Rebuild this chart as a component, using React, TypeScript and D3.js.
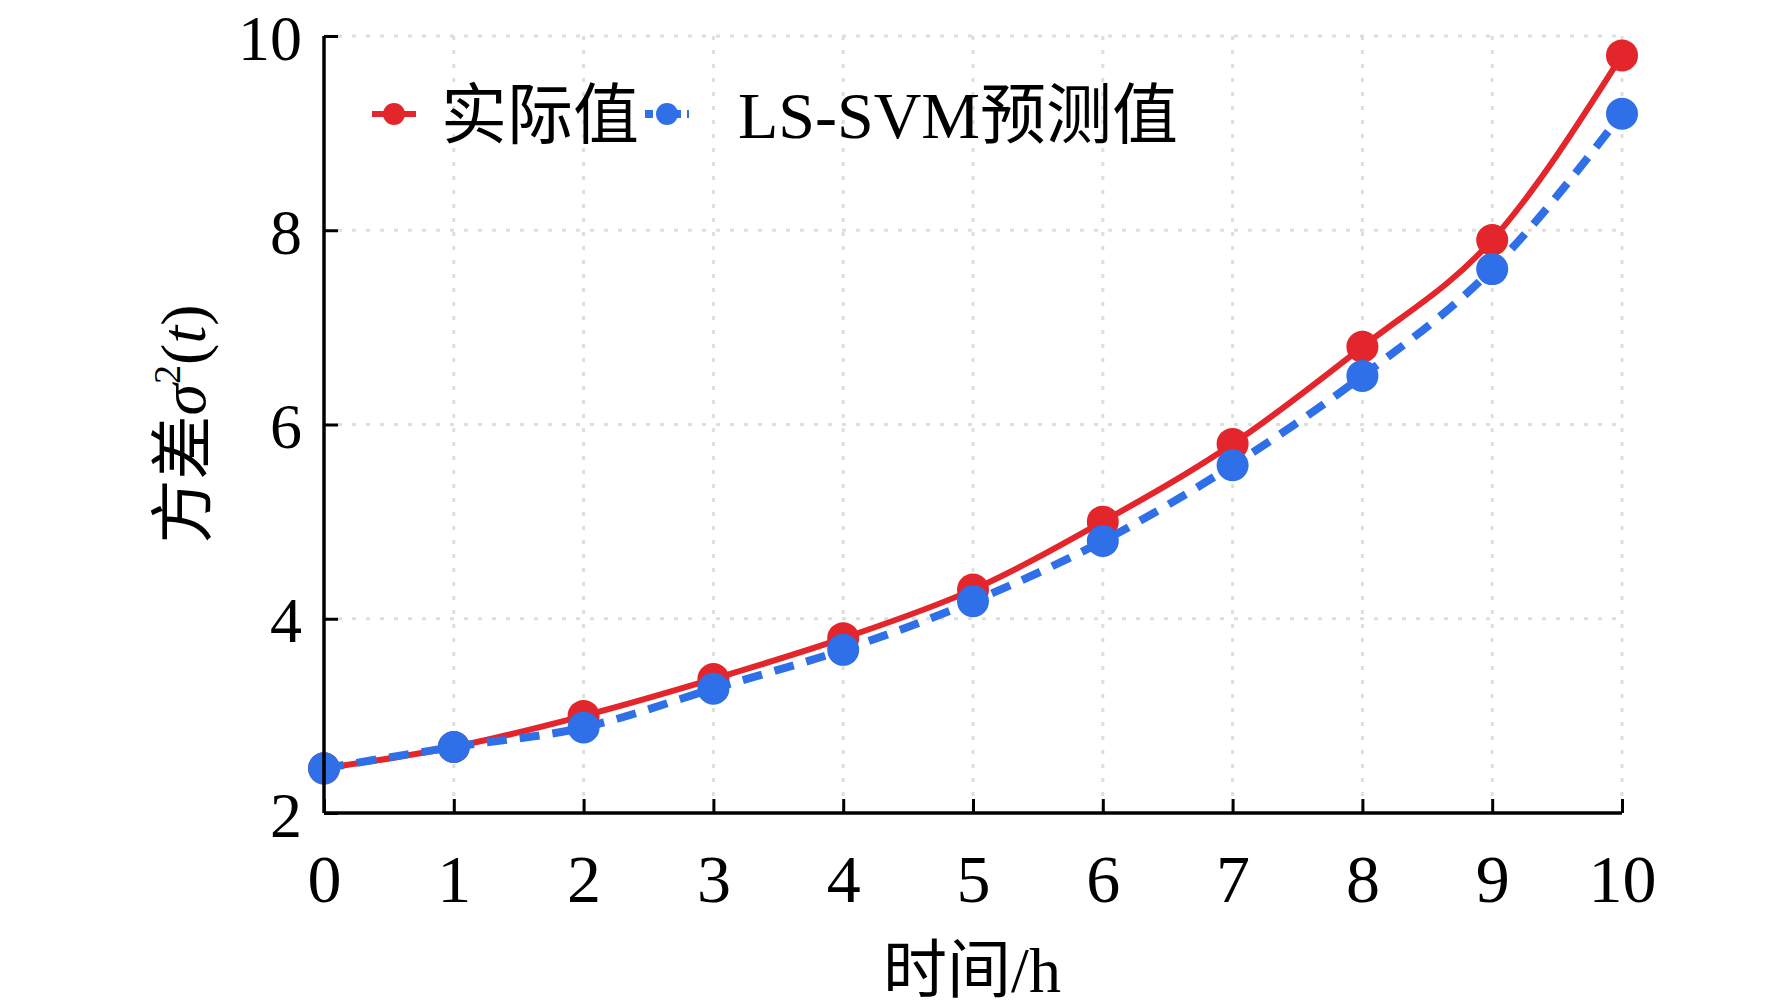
import * as d3 from 'd3'
import React, { useRef, useEffect } from 'react'

const hours = [0, 1, 2, 3, 4, 5, 6, 7, 8, 9, 10]
const actual = [2.46, 2.68, 3.0, 3.38, 3.8, 4.3, 5.0, 5.8, 6.8, 7.9, 9.8]
const predicted = [2.46, 2.68, 2.88, 3.28, 3.68, 4.18, 4.8, 5.58, 6.5, 7.6, 9.2]
const yTicks = [2, 4, 6, 8, 10]
const seriesNames = ['实际值', 'LS-SVM预测值']

const App = () => {
  const ref = useRef(null)

  useEffect(() => {
    draw()
  }, [])

  const draw = () => {
    const totalWidth = 1772
    const totalHeight = 1007
    const margin = { top: 36, right: 150, bottom: 194, left: 324 }
    const width = totalWidth - margin.left - margin.right
    const height = totalHeight - margin.top - margin.bottom

    const red = '#e3262b'
    const blue = '#2f6fe8'
    const serif = '"Liberation Serif", "Times New Roman", "Noto Sans CJK SC", serif'

    const svg = d3.select(ref.current)
    svg.selectAll('*').remove()

    const xScale = d3.scaleLinear().domain([0, 10]).range([0, width])
    const yScale = d3.scaleLinear().domain([2, 10]).range([height, 0])

    const g = svg.append('g').attr('transform', 'translate(' + margin.left + ',' + margin.top + ')')

    // dotted grid
    g.selectAll('.vGrid')
      .data(hours.filter((d) => d > 0))
      .enter()
      .append('line')
      .attr('x1', (d) => xScale(d))
      .attr('x2', (d) => xScale(d))
      .attr('y1', 0)
      .attr('y2', height)
      .attr('stroke', '#dedede')
      .attr('stroke-width', 3)
      .attr('stroke-dasharray', '4 10')

    g.selectAll('.hGrid')
      .data(yTicks.filter((d) => d > 2))
      .enter()
      .append('line')
      .attr('x1', 0)
      .attr('x2', width)
      .attr('y1', (d) => yScale(d))
      .attr('y2', (d) => yScale(d))
      .attr('stroke', '#dedede')
      .attr('stroke-width', 3)
      .attr('stroke-dasharray', '4 10')

    const line = d3
      .line<number>()
      .x((d, i) => xScale(hours[i]))
      .y((d) => yScale(d))
      .curve(d3.curveMonotoneX)

    // actual values
    g.append('path')
      .datum(actual)
      .attr('fill', 'none')
      .attr('stroke', red)
      .attr('stroke-width', 6)
      .attr('d', line)

    g.selectAll('.redDot')
      .data(actual)
      .enter()
      .append('circle')
      .attr('cx', (d, i) => xScale(hours[i]))
      .attr('cy', (d) => yScale(d))
      .attr('r', 16)
      .attr('fill', red)

    // LS-SVM prediction
    g.append('path')
      .datum(predicted)
      .attr('fill', 'none')
      .attr('stroke', blue)
      .attr('stroke-width', 8)
      .attr('stroke-dasharray', '20 13')
      .attr('d', line)

    g.selectAll('.blueDot')
      .data(predicted)
      .enter()
      .append('circle')
      .attr('cx', (d, i) => xScale(hours[i]))
      .attr('cy', (d) => yScale(d))
      .attr('r', 16)
      .attr('fill', blue)

    // axes, ticks inward
    const xAxis = d3.axisBottom(xScale).tickValues(hours).tickSize(-14).tickPadding(40).tickFormat(d3.format('d'))
    const yAxis = d3.axisLeft(yScale).tickValues(yTicks).tickSize(-14).tickPadding(22).tickFormat(d3.format('d'))

    const xg = g.append('g').attr('transform', 'translate(0,' + height + ')').call(xAxis)
    const yg = g.append('g').call(yAxis)

    ;[xg, yg].forEach((ax) => {
      ax.select('.domain').attr('stroke', '#000').attr('stroke-width', 3.5)
      ax.selectAll('.tick line').attr('stroke', '#000').attr('stroke-width', 3)
      ax.selectAll('.tick text').attr('font-family', serif).attr('fill', '#000')
    })
    xg.selectAll('.tick text').attr('font-size', 68).attr('dy', '0.72em')
    yg.selectAll('.tick text').attr('font-size', 64).attr('dy', '0.36em')
    yg.select('.domain').attr('d', 'M0,' + height + 'V0')
    xg.select('.domain').attr('d', 'M0,0H' + width)

    // axis titles
    svg
      .append('text')
      .attr('x', 972)
      .attr('y', 992)
      .attr('text-anchor', 'middle')
      .attr('font-family', serif)
      .attr('font-size', 64)
      .attr('fill', '#000')
      .text('时间/h')

    const yTitle = svg
      .append('text')
      .attr('transform', 'translate(205,424) rotate(-90)')
      .attr('text-anchor', 'middle')
      .attr('font-family', serif)
      .attr('font-size', 64)
      .attr('fill', '#000')
    yTitle.append('tspan').text('方差')
    yTitle.append('tspan').attr('font-style', 'italic').text('σ')
    yTitle.append('tspan').attr('font-size', 38).attr('dy', -25).text('2')
    yTitle.append('tspan').attr('dy', 25).text('(')
    yTitle.append('tspan').attr('font-style', 'italic').text('t')
    yTitle.append('tspan').text(')')

    // legend
    const legend = svg.append('g').attr('transform', 'translate(0,114)')
    const items = [
      { name: seriesNames[0], color: red, x: 372, dash: null, width: 6, textX: 441 },
      { name: seriesNames[1], color: blue, x: 645, dash: '8 6', width: 8, textX: 738 },
    ]
    items.forEach((it) => {
      legend
        .append('line')
        .attr('x1', it.x)
        .attr('x2', it.x + 44)
        .attr('y1', 0)
        .attr('y2', 0)
        .attr('stroke', it.color)
        .attr('stroke-width', it.width)
        .attr('stroke-dasharray', it.dash)
      legend
        .append('circle')
        .attr('cx', it.x + 22)
        .attr('cy', 0)
        .attr('r', 11)
        .attr('fill', it.color)
      legend
        .append('text')
        .attr('x', it.textX)
        .attr('y', 0)
        .attr('dy', '0.36em')
        .attr('font-family', serif)
        .attr('font-size', 66)
        .attr('fill', '#000')
        .text(it.name)
    })
  }

  return (
    <svg
      ref={ref}
      width={1772}
      height={1007}
      style={{ position: 'absolute', left: 0, top: 0, background: '#fff' }}
    />
  )
}

export default App
